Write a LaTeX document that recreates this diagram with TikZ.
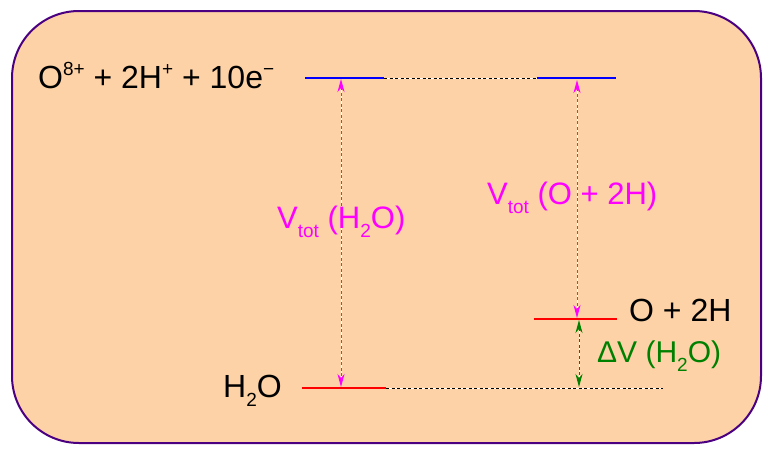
\documentclass[tikz,border=0pt]{standalone}
\usepackage{fontspec}
\setmainfont{Liberation Sans}
\usetikzlibrary{arrows.meta}
\definecolor{peach}{RGB}{253,210,166}
\definecolor{framecol}{RGB}{75,0,130}
\definecolor{mag}{RGB}{255,0,255}
\definecolor{grn}{RGB}{0,128,0}
\definecolor{lvblue}{RGB}{0,0,255}
\definecolor{lvred}{RGB}{255,0,0}
\newcommand{\myup}[1]{\raisebox{0.4em}{\fontsize{19}{19}\selectfont #1}}
\newcommand{\mydn}[1]{\raisebox{-0.3em}{\fontsize{19}{19}\selectfont #1}}
\tikzset{
  lbl/.style={anchor=base west, inner sep=0pt, font=\fontsize{32}{36}\selectfont},
  level/.style={line width=2pt},
  guide/.style={line width=1pt, dash pattern=on 3pt off 2.5pt},
  whiteunder/.style={line width=1pt, white},
  dblarrow/.style={line width=1pt, dash pattern=on 3pt off 2.5pt, {Stealth[length=13pt,width=7pt,inset=4pt]}-{Stealth[length=13pt,width=7pt,inset=4pt]}},
}
\begin{document}
\begin{tikzpicture}[x=1pt,y=-1pt]
\useasboundingbox (0,0) rectangle (774,456);
\draw[framecol, line width=2pt, fill=peach, rounded corners=67pt] (12,11) rectangle (761,443);

% level coordinates
\coordinate (tl1) at (305,78);
\coordinate (tl2) at (384,78);
\coordinate (tr1) at (537,78);
\coordinate (tr2) at (616,78);
\coordinate (bl1) at (302,388);
\coordinate (bl2) at (386,388);
\coordinate (be)  at (663,388);
\coordinate (ml1) at (534,319);
\coordinate (ml2) at (617,319);
\coordinate (a1t) at (341,79);
\coordinate (a1b) at (341,387);
\coordinate (a2t) at (577,80);
\coordinate (a2b) at (577,318);
\coordinate (a3t) at (579,320);
\coordinate (a3b) at (579,387);

% guide lines
\draw[whiteunder] (tl2) -- (tr1);
\draw[guide] (tl2) -- (tr1);
\draw[whiteunder] (bl2) -- (be);
\draw[guide] (bl2) -- (be);

% arrows
\draw[whiteunder, shorten <=6pt, shorten >=6pt] (a1t) -- (a1b);
\draw[dblarrow, mag] (a1t) -- (a1b);
\draw[whiteunder, shorten <=6pt, shorten >=6pt] (a2t) -- (a2b);
\draw[dblarrow, mag] (a2t) -- (a2b);
\draw[whiteunder, shorten <=6pt, shorten >=6pt] (a3t) -- (a3b);
\draw[dblarrow, grn] (a3t) -- (a3b);

% levels
\draw[level, lvblue] (tl1) -- (tl2);
\draw[level, lvblue] (tr1) -- (tr2);
\draw[level, lvred] (bl1) -- (bl2);
\draw[level, lvred] (ml1) -- (ml2);

% labels
\node[lbl] (top) at (38,88) {O\myup{8+} + 2H\myup{+} + 10e\myup{−}};
\node[lbl] (water) at (223,397) {H\mydn{2}O};
\node[lbl] (atoms) at (629,321) {O + 2H};
\node[lbl, mag, font=\fontsize{31}{34}\selectfont] (vtw) at (277,228) {V\mydn{tot} (H\mydn{2}O)};
\node[lbl, mag, font=\fontsize{31}{34}\selectfont] (vta) at (487,204) {V\mydn{tot} (O + 2H)};
\node[lbl, grn, font=\fontsize{30}{34}\selectfont] (dv) at (597,362) {ΔV (H\mydn{2}O)};
\end{tikzpicture}
\end{document}
